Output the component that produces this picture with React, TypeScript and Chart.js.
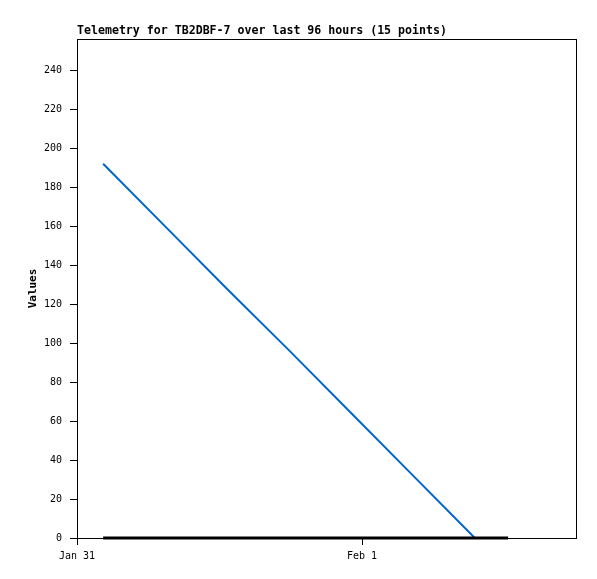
import React, { useEffect, useRef } from "react";
import { Chart, registerables } from "chart.js";

Chart.register(...registerables);

const titleText = "Telemetry for TB2DBF-7 over last 96 hours (15 points)";
const yAxisLabel = "Values";
// x values are hours since Jan 31 00:00
const xTickValues = [0, 24];
const xTickLabels = ["Jan 31", "Feb 1"];
const seriesAHours = [2.2, 7.4, 12.6, 17.9, 23.1, 28.3, 33.5];
const seriesAValues = [192, 160, 128, 96, 64, 32, 0];
const seriesBHours = [2.2, 7.4, 12.6, 17.9, 23.1, 28.3, 33.5, 36.3];
const seriesBValues = [0, 0, 0, 0, 0, 0, 0, 0];
const xMin = 0;
const xMax = 42.1;
const yMin = 0;
const yMax = 256;

const MONO = "'DejaVu Sans Mono', 'Liberation Mono', monospace";

export default function App() {
  const ref = useRef<HTMLCanvasElement | null>(null);
  useEffect(() => {
    document.body.style.margin = "0";
    const canvas = ref.current!;
    const framePlugin = {
      id: "frame",
      beforeDatasetsDraw(chart: any) {
        const { ctx, chartArea: a } = chart;
        ctx.save();
        ctx.strokeStyle = "#000";
        ctx.lineWidth = 1;
        ctx.strokeRect(Math.round(a.left) + 0.5, Math.round(a.top) + 0.5, Math.round(a.right - a.left) - 1, Math.round(a.bottom - a.top));
        ctx.restore();
      },
      afterDraw(chart: any) {
        const { ctx, chartArea: a } = chart;
        ctx.save();
        ctx.fillStyle = "#000";
        ctx.font = `bold 11.6px ${MONO}`;
        ctx.textBaseline = "alphabetic";
        ctx.textAlign = "left";
        ctx.fillText(titleText, a.left, 34);
        ctx.translate(36, (a.top + a.bottom) / 2);
        ctx.rotate(-Math.PI / 2);
        ctx.textAlign = "center";
        ctx.font = `bold 11px ${MONO}`;
        ctx.fillText(yAxisLabel, 0, 0);
        ctx.restore();
      },
    };
    const chart = new Chart(canvas, {
      type: "line",
      data: {
        datasets: [
          {
            data: seriesBHours.map((x, i) => ({ x, y: seriesBValues[i] })),
            borderColor: "#000000",
            borderWidth: 3,
            pointRadius: 0,
            tension: 0,
            clip: false,
            order: 0,
          },
          {
            data: seriesAHours.map((x, i) => ({ x, y: seriesAValues[i] })),
            borderColor: "#0066cc",
            borderWidth: 2,
            pointRadius: 0,
            tension: 0,
            clip: false,
            order: 1,
          },
        ],
      },
      options: {
        responsive: false,
        animation: false,
        layout: { padding: { left: 0, right: 20, top: 39, bottom: 0 } },
        plugins: { legend: { display: false }, tooltip: { enabled: false }, title: { display: false } },
        scales: {
          x: {
            type: "linear",
            min: xMin,
            max: xMax,
            afterBuildTicks: (axis: any) => {
              axis.ticks = xTickValues.map((v) => ({ value: v }));
            },
            afterFit: (axis: any) => {
              axis.height = 41;
            },
            ticks: {
              autoSkip: false,
              maxRotation: 0,
              padding: 5,
              color: "#000",
              font: { family: MONO, size: 10 },
              callback: (v: any) => {
                const i = xTickValues.indexOf(Number(v));
                return i >= 0 ? xTickLabels[i] : "";
              },
            },
            grid: { drawOnChartArea: false, drawTicks: true, tickLength: 7, color: "#000" },
            border: { display: false },
          },
          y: {
            type: "linear",
            min: yMin,
            max: yMax,
            afterBuildTicks: (axis: any) => {
              const t = [];
              for (let v = 0; v <= 240; v += 20) t.push({ value: v });
              axis.ticks = t;
            },
            afterFit: (axis: any) => {
              axis.width = 77;
            },
            ticks: {
              padding: 8,
              color: "#000",
              font: { family: MONO, size: 10 },
            },
            grid: { drawOnChartArea: false, drawTicks: true, tickLength: 7, color: "#000" },
            border: { display: false },
          },
        },
      },
      plugins: [framePlugin],
    } as any);
    return () => chart.destroy();
  }, []);
  return (
    <div style={{ width: 597, height: 579, background: "#fff" }}>
      <canvas ref={ref} width={597} height={579} style={{ display: "block" }} />
    </div>
  );
}
